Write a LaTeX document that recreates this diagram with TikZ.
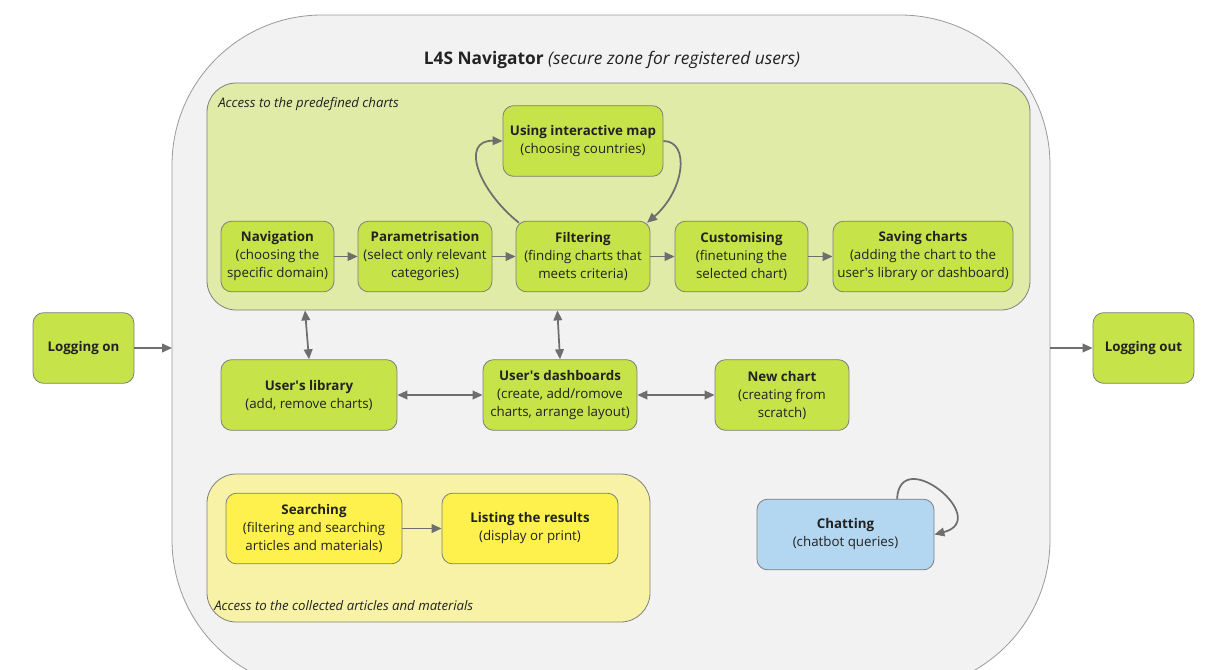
\documentclass[tikz,border=0pt]{standalone}
\usepackage{fontspec}
\setmainfont{Open Sans}
\usetikzlibrary{arrows.meta}
\definecolor{outerfill}{HTML}{F2F2F2}
\definecolor{outerline}{HTML}{9A9A9A}
\definecolor{regiongreen}{HTML}{E0EBA8}
\definecolor{nodegreen}{HTML}{C7E34A}
\definecolor{regionyellow}{HTML}{F7F2A5}
\definecolor{nodeyellow}{HTML}{FFF14D}
\definecolor{nodeblue}{HTML}{B3D7F0}
\definecolor{boxline}{HTML}{7F7F7F}
\definecolor{arrowgray}{HTML}{6E6E6E}
\definecolor{textdark}{HTML}{222222}
\newcommand{\apos}{\textquotesingle}
\tikzset{
  box/.style={draw=boxline, line width=0.6pt, rounded corners=8pt, align=center,
    minimum height=53pt, inner sep=1pt, text=textdark,
    font=\fontsize{10}{13.5}\selectfont},
  gbox/.style={box, fill=nodegreen},
  ybox/.style={box, fill=nodeyellow},
  bbox/.style={box, fill=nodeblue},
  region/.style={draw=boxline, line width=0.6pt, rounded corners=22pt},
  arr/.style={draw=arrowgray, line width=1.3pt, -{Triangle[length=7.5pt,width=6.5pt]}},
  dblarr/.style={draw=arrowgray, line width=1.3pt, {Triangle[length=7.5pt,width=6.5pt]}-{Triangle[length=7.5pt,width=6.5pt]}},
  lbl/.style={font=\fontsize{9.9}{11}\selectfont\itshape, text=textdark, inner sep=0pt}
}
\begin{document}
\begin{tikzpicture}[x=0.75pt,y=-0.75pt]
\useasboundingbox (0,0) rectangle (1209,669);
\fill[white] (0,0) rectangle (1209,669);
\begin{scope}
\clip (0,0) rectangle (1209,669);
\path[draw=outerline, fill=outerfill, line width=0.6pt, rounded corners=112.5pt] (172,15) rectangle (1050,690);
\end{scope}
\node[font=\fontsize{13}{15}\selectfont, text=textdark] (title) at (612,60) {\textbf{L4S Navigator} \textit{(secure zone for registered users)}};

% regions
\node[region, fill=regiongreen, minimum width=617.25pt, minimum height=170.25pt] (pre) at (618.5,196.5) {};
\node[lbl, anchor=west] (prelbl) at (218,104) {Access to the predefined charts};
\node[region, fill=regionyellow, minimum width=332.25pt, minimum height=111pt] (col) at (428.5,548) {};
\node[lbl, anchor=west] (collbl) at (214,606) {Access to the collected articles and materials};

% nodes
\node[gbox, minimum width=120pt] (map) at (583,141) {\textbf{Using interactive map}\\(choosing countries)};
\node[gbox, minimum width=84.75pt] (nav) at (277.5,256.5) {\textbf{Navigation}\\(choosing the\\specific domain)};
\node[gbox, minimum width=100.5pt] (par) at (425,256.5) {\textbf{Parametrisation}\\(select only relevant\\categories)};
\node[gbox, minimum width=100.5pt] (fil) at (583,256.5) {\textbf{Filtering}\\(finding charts that\\meets criteria)};
\node[gbox, minimum width=99.75pt] (cus) at (741.5,256.5) {\textbf{Customising}\\(finetuning the\\selected chart)};
\node[gbox, minimum width=135pt] (sav) at (923,256.5) {\textbf{Saving charts}\\(adding the chart to the\\user\apos s library or dashboard)};
\node[gbox, minimum width=75.75pt] (lon) at (83.5,348) {\textbf{Logging on}};
\node[gbox, minimum width=75.75pt] (lout) at (1143.5,348) {\textbf{Logging out}};
\node[gbox, minimum width=132pt] (lib) at (309,395) {\textbf{User\apos s library}\\(add, remove charts)};
\node[gbox, minimum width=115.5pt] (dash) at (560,395) {\textbf{User\apos s dashboards}\\(create, add/romove\\charts, arrange layout)};
\node[gbox, minimum width=100.5pt] (new) at (782,395) {\textbf{New chart}\\(creating from\\scratch)};
\node[ybox, minimum width=132pt] (sea) at (314,528.5) {\textbf{Searching}\\(filtering and searching\\articles and materials)};
\node[ybox, minimum width=132pt] (lis) at (530,528.5) {\textbf{Listing the results}\\(display or print)};
\node[bbox, minimum width=132.75pt] (chat) at (845.5,534.5) {\textbf{Chatting}\\(chatbot queries)};

\coordinate (navL) at (172,348);
\coordinate (navR) at (1050,348);

% connectors
\draw[arr] (lon) -- (navL);
\draw[arr] (navR) -- (lout);
\draw[arr] (nav) -- (par);
\draw[arr] (par) -- (fil);
\draw[arr] (fil) -- (cus);
\draw[arr] (cus) -- (sav);
\draw[arr] ([xshift=2.5pt,yshift=-1.5pt]fil.north west) .. controls (478,190) and (460,140) .. (map.west);
\draw[arr] (map.east) .. controls (690,141) and (685,190) .. ([xshift=-2.5pt,yshift=-1.5pt]fil.north east);
\draw[dblarr] ([xshift=-3pt]lib.north |- pre.south) -- (lib.north);
\draw[dblarr] ([xshift=-2pt]dash.north |- pre.south) -- (dash.north);
\draw[dblarr] (lib) -- (dash);
\draw[dblarr] (dash) -- (new);
\draw[arr] (sea) -- (lis);
\draw[arr] ([xshift=-28pt]chat.north east) .. controls +(3,-55) and +(58,-15) .. (chat.east);
\end{tikzpicture}
\end{document}
